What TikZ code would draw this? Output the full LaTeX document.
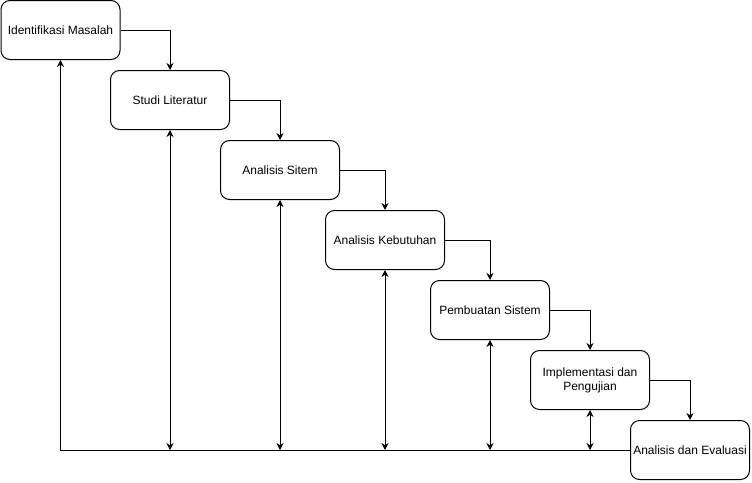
\documentclass[tikz,border=0pt]{standalone}
\usepackage{fontspec}
\setmainfont{Liberation Sans}
\usetikzlibrary{arrows.meta}
\begin{document}
\begin{tikzpicture}[x=1pt,y=-1pt,
  box/.style={draw, rounded corners=9pt, minimum width=119pt, minimum height=59pt, inner sep=0pt, align=center, font=\fontsize{12}{14}\selectfont, line width=1pt},
  conn/.style={line width=1pt, -{Stealth[length=7pt,width=7pt]}},
  biconn/.style={line width=1pt, {Stealth[length=7pt,width=7pt]}-{Stealth[length=7pt,width=7pt]}}]
\useasboundingbox (0,0) rectangle (752,482);
\fill[white] (0,0) rectangle (752,482);
\node[box] (b1) at (60.5,30) {Identifikasi Masalah};
\node[box] (b2) at (170,100) {Studi Literatur};
\node[box] (b3) at (280,170) {Analisis Sitem};
\node[box] (b4) at (385,240) {Analisis Kebutuhan};
\node[box] (b5) at (490,310) {Pembuatan Sistem};
\node[box] (b6) at (590,380) {Implementasi dan\\Pengujian};
\node[box] (b7) at (690,450) {Analisis dan Evaluasi};
\draw[conn] (b1.east) -| (b2.north);
\draw[conn] (b2.east) -| (b3.north);
\draw[conn] (b3.east) -| (b4.north);
\draw[conn] (b4.east) -| (b5.north);
\draw[conn] (b5.east) -| (b6.north);
\draw[conn] (b6.east) -| (b7.north);
\draw[conn] (b7.west) -| (b1.south);
\coordinate (j2) at (b2.south |- b7.west);
\coordinate (j3) at (b3.south |- b7.west);
\coordinate (j4) at (b4.south |- b7.west);
\coordinate (j5) at (b5.south |- b7.west);
\coordinate (j6) at (b6.south |- b7.west);
\draw[biconn] (j2) -- (b2.south);
\draw[biconn] (j3) -- (b3.south);
\draw[biconn] (j4) -- (b4.south);
\draw[biconn] (j5) -- (b5.south);
\draw[biconn] (j6) -- (b6.south);
\end{tikzpicture}
\end{document}
